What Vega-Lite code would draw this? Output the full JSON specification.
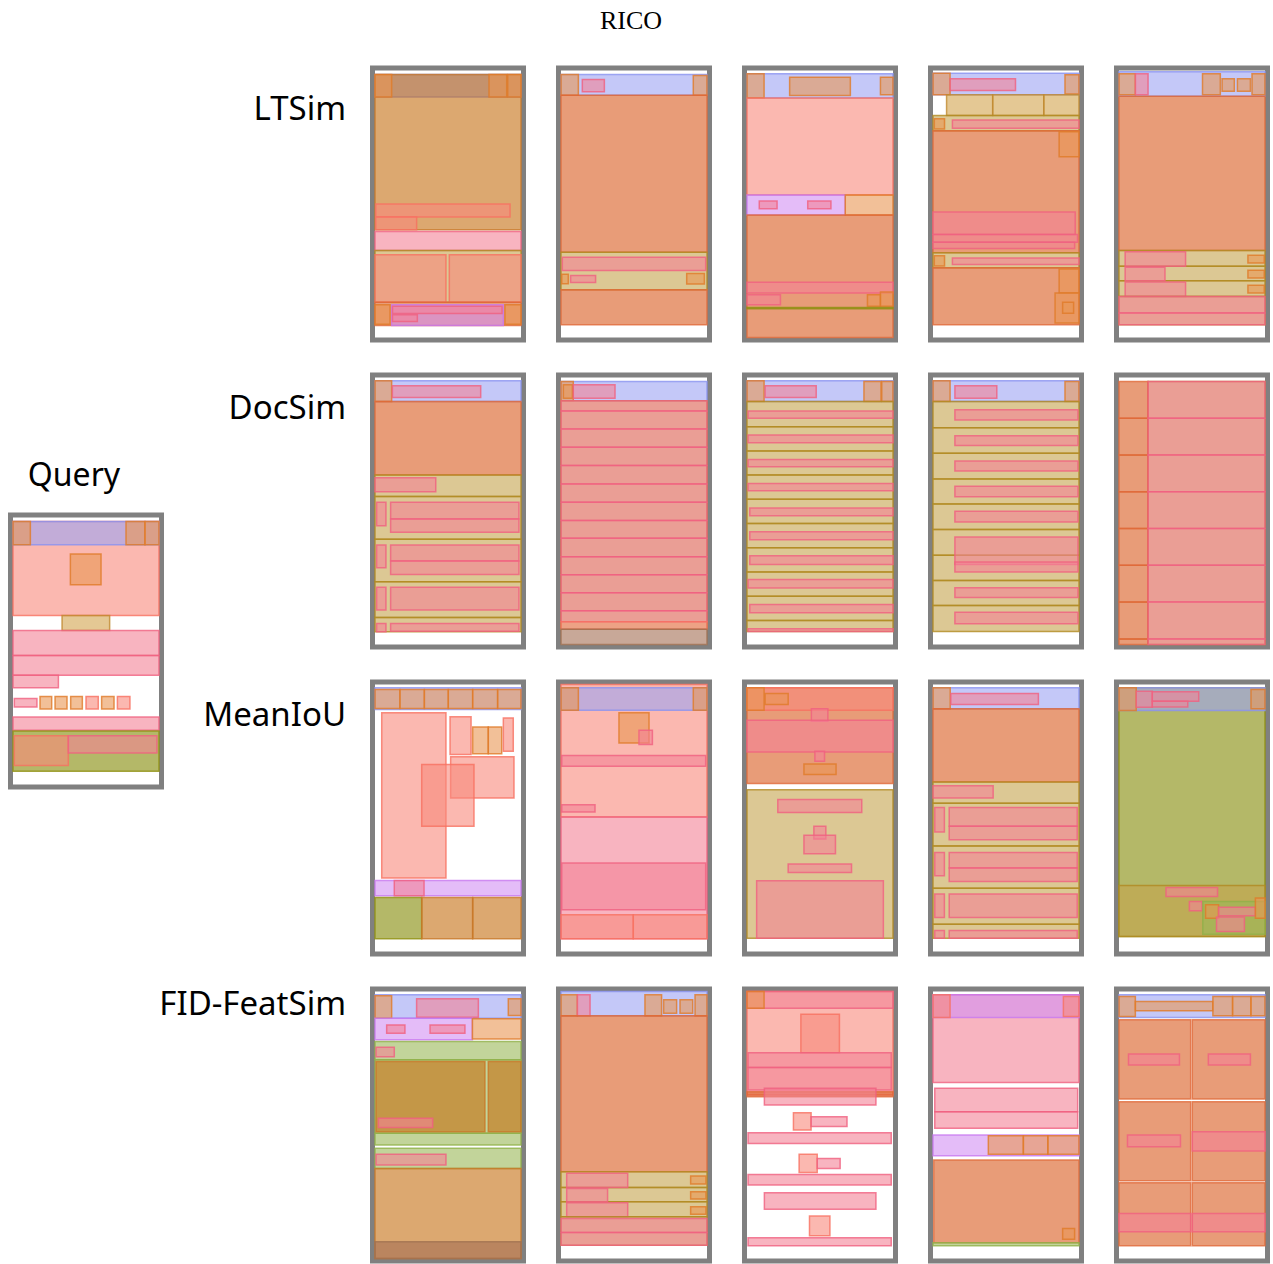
{
  "$schema": "https://vega.github.io/schema/vega-lite/v6.json",
  "background": "white",
  "padding": {"left": 7.5, "top": 7, "right": 0, "bottom": 0},
  "title": {"text": "RICO", "font": "Liberation Serif", "fontSize": 26, "fontWeight": "normal", "color": "black", "anchor": "middle", "dx": -8, "offset": 32},
  "config": {"view": {"stroke": "#808080", "strokeWidth": 5, "fill": "white"}},
  "data": {"values": [
    {"m":"Query","k":1,"c":"Image","x":0,"x2":100,"y":1.5,"y2":36.7},
    {"m":"Query","k":1,"c":"Toolbar","x":0,"x2":100,"y":1.5,"y2":10.2},
    {"m":"Query","k":1,"c":"Icon","x":0,"x2":11.9,"y":1.5,"y2":10.2},
    {"m":"Query","k":1,"c":"Icon","x":77.4,"x2":90.4,"y":1.5,"y2":10.2},
    {"m":"Query","k":1,"c":"Icon","x":90.4,"x2":100,"y":1.5,"y2":10.2},
    {"m":"Query","k":1,"c":"Icon","x":39.3,"x2":60.3,"y":13.7,"y2":25.2},
    {"m":"Query","k":1,"c":"Text Button","x":33.6,"x2":66.2,"y":36.7,"y2":42.3},
    {"m":"Query","k":1,"c":"Text","x":0,"x2":100,"y":42.3,"y2":51.7},
    {"m":"Query","k":1,"c":"Text","x":0,"x2":100,"y":51.7,"y2":59.1},
    {"m":"Query","k":1,"c":"Text","x":0,"x2":31.1,"y":59.1,"y2":63.8},
    {"m":"Query","k":1,"c":"Text","x":0.9,"x2":16.4,"y":67.8,"y2":71},
    {"m":"Query","k":1,"c":"Icon","x":18.5,"x2":26.5,"y":67,"y2":71.7},
    {"m":"Query","k":1,"c":"Icon","x":28.8,"x2":37,"y":67,"y2":71.7},
    {"m":"Query","k":1,"c":"Icon","x":39.5,"x2":47.5,"y":67,"y2":71.7},
    {"m":"Query","k":1,"c":"Image","x":50,"x2":58.4,"y":67,"y2":71.7},
    {"m":"Query","k":1,"c":"Icon","x":60.7,"x2":69.2,"y":67,"y2":71.7},
    {"m":"Query","k":1,"c":"Image","x":71.5,"x2":80.1,"y":67,"y2":71.7},
    {"m":"Query","k":1,"c":"Text","x":0,"x2":100,"y":74.7,"y2":79.7},
    {"m":"Query","k":1,"c":"Background Image","x":0,"x2":100,"y":80,"y2":95},
    {"m":"Query","k":1,"c":"Image","x":0.9,"x2":37.9,"y":81.7,"y2":92.9},
    {"m":"Query","k":1,"c":"Text","x":37.9,"x2":98.6,"y":81.7,"y2":88.2},

    {"m":"LTSim","k":1,"c":"Toolbar","x":0,"x2":100,"y":1.5,"y2":9.9},
    {"m":"LTSim","k":1,"c":"Advertisement","x":0,"x2":100,"y":1.5,"y2":59.6},
    {"m":"LTSim","k":1,"c":"Icon","x":0,"x2":11.4,"y":1.5,"y2":9.9},
    {"m":"LTSim","k":1,"c":"Icon","x":78.1,"x2":90.2,"y":1.5,"y2":9.9},
    {"m":"LTSim","k":1,"c":"Icon","x":90.9,"x2":100,"y":1.5,"y2":9.9},
    {"m":"LTSim","k":1,"c":"Image","x":0.5,"x2":92.5,"y":50,"y2":54.9},
    {"m":"LTSim","k":1,"c":"Image","x":0.5,"x2":28.5,"y":54.9,"y2":59.6},
    {"m":"LTSim","k":1,"c":"Text","x":0,"x2":100,"y":60.3,"y2":67.4},
    {"m":"LTSim","k":1,"c":"List Item","x":0,"x2":100,"y":67.4,"y2":86.8},
    {"m":"LTSim","k":1,"c":"Image","x":0,"x2":48.6,"y":69,"y2":86.8},
    {"m":"LTSim","k":1,"c":"Image","x":50.9,"x2":100,"y":69,"y2":86.8},
    {"m":"LTSim","k":1,"c":"Web View","x":0,"x2":100,"y":86.8,"y2":95.5},
    {"m":"LTSim","k":1,"c":"Input","x":11.4,"x2":87.9,"y":87.75,"y2":95.5},
    {"m":"LTSim","k":1,"c":"Icon","x":0,"x2":10.3,"y":87.75,"y2":95},
    {"m":"LTSim","k":1,"c":"Icon","x":89,"x2":100,"y":87.75,"y2":95},
    {"m":"LTSim","k":1,"c":"Text","x":12,"x2":87,"y":88.3,"y2":91},
    {"m":"LTSim","k":1,"c":"Text","x":12,"x2":29,"y":91.5,"y2":94},

    {"m":"LTSim","k":2,"c":"Toolbar","x":0,"x2":100,"y":1.5,"y2":9.25},
    {"m":"LTSim","k":2,"c":"Icon","x":0,"x2":11.9,"y":1.5,"y2":9.25},
    {"m":"LTSim","k":2,"c":"Icon","x":90.6,"x2":100,"y":1.9,"y2":9.25},
    {"m":"LTSim","k":2,"c":"Text","x":14.6,"x2":29.7,"y":3.4,"y2":8},
    {"m":"LTSim","k":2,"c":"Web View","x":0,"x2":100,"y":9.25,"y2":68.1},
    {"m":"LTSim","k":2,"c":"List Item","x":0,"x2":100,"y":68.1,"y2":82.1},
    {"m":"LTSim","k":2,"c":"Text","x":0.9,"x2":99.1,"y":69.9,"y2":74.9},
    {"m":"LTSim","k":2,"c":"Icon","x":0.5,"x2":5,"y":76.3,"y2":79.9},
    {"m":"LTSim","k":2,"c":"Text","x":6.6,"x2":23.7,"y":76.75,"y2":79.4},
    {"m":"LTSim","k":2,"c":"Icon","x":86.1,"x2":98.2,"y":76,"y2":80},
    {"m":"LTSim","k":2,"c":"Web View","x":0,"x2":100,"y":82.1,"y2":95.25},

    {"m":"LTSim","k":3,"c":"Toolbar","x":0,"x2":100,"y":1.25,"y2":10.3},
    {"m":"LTSim","k":3,"c":"Icon","x":0,"x2":11.7,"y":1.25,"y2":10.3},
    {"m":"LTSim","k":3,"c":"Icon","x":29.2,"x2":70.8,"y":2.5,"y2":9.4},
    {"m":"LTSim","k":3,"c":"Icon","x":91.4,"x2":100,"y":2.5,"y2":9.1},
    {"m":"LTSim","k":3,"c":"Image","x":0,"x2":100,"y":10.3,"y2":46.6},
    {"m":"LTSim","k":3,"c":"Input","x":0,"x2":67.3,"y":46.6,"y2":54.1},
    {"m":"LTSim","k":3,"c":"Text","x":8.4,"x2":20.6,"y":48.9,"y2":51.75},
    {"m":"LTSim","k":3,"c":"Text","x":41.6,"x2":57.5,"y":48.9,"y2":51.75},
    {"m":"LTSim","k":3,"c":"Icon","x":67.3,"x2":100,"y":46.6,"y2":54.1},
    {"m":"LTSim","k":3,"c":"Web View","x":0,"x2":100,"y":54.1,"y2":100},
    {"m":"LTSim","k":3,"c":"Text","x":0,"x2":100,"y":79.3,"y2":83.3},
    {"m":"LTSim","k":3,"c":"Text","x":0,"x2":22.9,"y":84,"y2":87.7},
    {"m":"LTSim","k":3,"c":"Icon","x":82.5,"x2":91.4,"y":84,"y2":88.3},
    {"m":"LTSim","k":3,"c":"Icon","x":91.4,"x2":100,"y":83,"y2":88.3},
    {"m":"LTSim","k":3,"c":"Background Image","x":0,"x2":100,"y":88.8,"y2":89.2},

    {"m":"LTSim","k":4,"c":"Toolbar","x":0,"x2":100,"y":1,"y2":9.1},
    {"m":"LTSim","k":4,"c":"Icon","x":0,"x2":11.7,"y":1,"y2":9.1},
    {"m":"LTSim","k":4,"c":"Text","x":11.7,"x2":56.5,"y":3.1,"y2":7.5},
    {"m":"LTSim","k":4,"c":"Icon","x":90.4,"x2":100,"y":1.6,"y2":8.8},
    {"m":"LTSim","k":4,"c":"Text Button","x":9.3,"x2":40.9,"y":9.1,"y2":16.9},
    {"m":"LTSim","k":4,"c":"Text Button","x":40.9,"x2":75.9,"y":9.1,"y2":16.9},
    {"m":"LTSim","k":4,"c":"Text Button","x":75.9,"x2":100,"y":9.1,"y2":16.9},
    {"m":"LTSim","k":4,"c":"List Item","x":0,"x2":100,"y":16.9,"y2":22.6},
    {"m":"LTSim","k":4,"c":"Icon","x":0.9,"x2":7.9,"y":18.1,"y2":21.9},
    {"m":"LTSim","k":4,"c":"Text","x":13.3,"x2":100,"y":18.5,"y2":21.6},
    {"m":"LTSim","k":4,"c":"Web View","x":0,"x2":100,"y":22.6,"y2":68.3},
    {"m":"LTSim","k":4,"c":"Icon","x":86.4,"x2":100,"y":22.9,"y2":32.3},
    {"m":"LTSim","k":4,"c":"Text","x":0,"x2":97.4,"y":53,"y2":61.4},
    {"m":"LTSim","k":4,"c":"Text","x":0,"x2":99,"y":61.4,"y2":64.3},
    {"m":"LTSim","k":4,"c":"Text","x":0,"x2":97,"y":64.3,"y2":66.7},
    {"m":"LTSim","k":4,"c":"List Item","x":0,"x2":100,"y":68.3,"y2":73.9},
    {"m":"LTSim","k":4,"c":"Icon","x":0.9,"x2":7.9,"y":69.4,"y2":73.2},
    {"m":"LTSim","k":4,"c":"Text","x":13.3,"x2":100,"y":70.2,"y2":72.7},
    {"m":"LTSim","k":4,"c":"Web View","x":0,"x2":100,"y":73.9,"y2":95.2},
    {"m":"LTSim","k":4,"c":"Icon","x":86.4,"x2":100,"y":74.3,"y2":83.3},
    {"m":"LTSim","k":4,"c":"Icon","x":83.6,"x2":100,"y":83.3,"y2":94.6},
    {"m":"LTSim","k":4,"c":"Icon","x":88.8,"x2":96.3,"y":86.8,"y2":90.9},

    {"m":"LTSim","k":5,"c":"Toolbar","x":0,"x2":100,"y":0.5,"y2":9.6},
    {"m":"LTSim","k":5,"c":"Icon","x":0,"x2":11.2,"y":1.25,"y2":9.1},
    {"m":"LTSim","k":5,"c":"Text","x":11.2,"x2":19.9,"y":1.25,"y2":9.1},
    {"m":"LTSim","k":5,"c":"Icon","x":57.2,"x2":69.4,"y":1.25,"y2":9.1},
    {"m":"LTSim","k":5,"c":"Icon","x":70.6,"x2":79,"y":3.1,"y2":7.75},
    {"m":"LTSim","k":5,"c":"Icon","x":81.1,"x2":90,"y":3.1,"y2":7.75},
    {"m":"LTSim","k":5,"c":"Icon","x":91.1,"x2":100,"y":1.25,"y2":9.1},
    {"m":"LTSim","k":5,"c":"Web View","x":0,"x2":100,"y":9.6,"y2":67.4},
    {"m":"LTSim","k":5,"c":"List Item","x":0,"x2":100,"y":67.4,"y2":73.3},
    {"m":"LTSim","k":5,"c":"List Item","x":0,"x2":100,"y":73.3,"y2":78.7},
    {"m":"LTSim","k":5,"c":"List Item","x":0,"x2":100,"y":78.7,"y2":84.6},
    {"m":"LTSim","k":5,"c":"Text","x":4.2,"x2":45.6,"y":67.9,"y2":73.3},
    {"m":"LTSim","k":5,"c":"Text","x":4.2,"x2":31.5,"y":73.7,"y2":78.7},
    {"m":"LTSim","k":5,"c":"Text","x":4.2,"x2":45.6,"y":79.2,"y2":84.6},
    {"m":"LTSim","k":5,"c":"Icon","x":88.3,"x2":99.5,"y":69.2,"y2":72.1},
    {"m":"LTSim","k":5,"c":"Icon","x":88.3,"x2":99.5,"y":74.8,"y2":77.7},
    {"m":"LTSim","k":5,"c":"Icon","x":88.3,"x2":99.5,"y":80.4,"y2":83.3},
    {"m":"LTSim","k":5,"c":"List Item","x":0,"x2":100,"y":84.6,"y2":95.2},
    {"m":"LTSim","k":5,"c":"Text","x":0,"x2":100,"y":84.6,"y2":90.85},
    {"m":"LTSim","k":5,"c":"Text","x":0,"x2":100,"y":90.85,"y2":95.2},

    {"m":"DocSim","k":1,"c":"Toolbar","x":0,"x2":100,"y":1.25,"y2":9},
    {"m":"DocSim","k":1,"c":"Icon","x":0,"x2":11.4,"y":1.25,"y2":9},
    {"m":"DocSim","k":1,"c":"Text","x":11.9,"x2":72.4,"y":3.1,"y2":7.5},
    {"m":"DocSim","k":1,"c":"Web View","x":0,"x2":100,"y":9,"y2":36.5},
    {"m":"DocSim","k":1,"c":"List Item","x":0,"x2":100,"y":36.5,"y2":44.6},
    {"m":"DocSim","k":1,"c":"List Item","x":0,"x2":100,"y":44.6,"y2":60.6},
    {"m":"DocSim","k":1,"c":"List Item","x":0,"x2":100,"y":60.6,"y2":76.5},
    {"m":"DocSim","k":1,"c":"List Item","x":0,"x2":100,"y":76.5,"y2":89.9},
    {"m":"DocSim","k":1,"c":"List Item","x":0,"x2":100,"y":89.9,"y2":95.25},
    {"m":"DocSim","k":1,"c":"Text","x":0,"x2":41.6,"y":37.5,"y2":42.75},
    {"m":"DocSim","k":1,"c":"Text","x":1.1,"x2":7.5,"y":46.75,"y2":55.5},
    {"m":"DocSim","k":1,"c":"Text","x":10.7,"x2":98.6,"y":46.75,"y2":53},
    {"m":"DocSim","k":1,"c":"Text","x":10.7,"x2":98.6,"y":53,"y2":58},
    {"m":"DocSim","k":1,"c":"Text","x":1.1,"x2":7.5,"y":62.75,"y2":71.25},
    {"m":"DocSim","k":1,"c":"Text","x":10.7,"x2":98.6,"y":62.75,"y2":68.75},
    {"m":"DocSim","k":1,"c":"Text","x":10.7,"x2":98.6,"y":68.75,"y2":73.75},
    {"m":"DocSim","k":1,"c":"Text","x":1.1,"x2":7.5,"y":78.6,"y2":87.1},
    {"m":"DocSim","k":1,"c":"Text","x":10.7,"x2":98.6,"y":78.6,"y2":87.1},
    {"m":"DocSim","k":1,"c":"Text","x":1.1,"x2":7.5,"y":92.1,"y2":95.25},
    {"m":"DocSim","k":1,"c":"Text","x":10.7,"x2":98.6,"y":92.1,"y2":95},

    {"m":"DocSim","k":2,"c":"Toolbar","x":0,"x2":100,"y":1.5,"y2":8.75},
    {"m":"DocSim","k":2,"c":"Icon","x":0,"x2":8.4,"y":1.5,"y2":8.75},
    {"m":"DocSim","k":2,"c":"Icon","x":1.6,"x2":7.8,"y":2.75,"y2":7.75},
    {"m":"DocSim","k":2,"c":"Text","x":8.4,"x2":37,"y":2.75,"y2":7.75},
    {"m":"DocSim","k":2,"c":"List Item","x":0,"x2":100,"y":8.75,"y2":94.25},
    {"m":"DocSim","k":2,"c":"Text","x":0,"x2":100,"y":8.75,"y2":12.5},
    {"m":"DocSim","k":2,"c":"Text","x":0,"x2":100,"y":12.5,"y2":19.25},
    {"m":"DocSim","k":2,"c":"Text","x":0,"x2":100,"y":19.25,"y2":26.1},
    {"m":"DocSim","k":2,"c":"Text","x":0,"x2":100,"y":26.1,"y2":33},
    {"m":"DocSim","k":2,"c":"Text","x":0,"x2":100,"y":33,"y2":39.9},
    {"m":"DocSim","k":2,"c":"Text","x":0,"x2":100,"y":39.9,"y2":46.75},
    {"m":"DocSim","k":2,"c":"Text","x":0,"x2":100,"y":46.75,"y2":53.6},
    {"m":"DocSim","k":2,"c":"Text","x":0,"x2":100,"y":53.6,"y2":60.25},
    {"m":"DocSim","k":2,"c":"Text","x":0,"x2":100,"y":60.25,"y2":67.1},
    {"m":"DocSim","k":2,"c":"Text","x":0,"x2":100,"y":67.1,"y2":73.9},
    {"m":"DocSim","k":2,"c":"Text","x":0,"x2":100,"y":73.9,"y2":80.6},
    {"m":"DocSim","k":2,"c":"Text","x":0,"x2":100,"y":80.6,"y2":87.4},
    {"m":"DocSim","k":2,"c":"Text","x":0,"x2":100,"y":87.4,"y2":91.5},
    {"m":"DocSim","k":2,"c":"Image","x":0,"x2":100,"y":91.5,"y2":94.25},
    {"m":"DocSim","k":2,"c":"Bottom Navigation","x":0,"x2":100,"y":94.25,"y2":100},

    {"m":"DocSim","k":3,"c":"Toolbar","x":0,"x2":100,"y":1.25,"y2":9},
    {"m":"DocSim","k":3,"c":"Icon","x":0,"x2":11.7,"y":1.25,"y2":9},
    {"m":"DocSim","k":3,"c":"Text","x":12.4,"x2":47.4,"y":3.1,"y2":7.5},
    {"m":"DocSim","k":3,"c":"Icon","x":80.1,"x2":91.8,"y":1.5,"y2":9},
    {"m":"DocSim","k":3,"c":"Icon","x":92.3,"x2":100,"y":1.5,"y2":9},
    {"m":"DocSim","k":3,"c":"List Item","x":0,"x2":100,"y":9,"y2":18.4},
    {"m":"DocSim","k":3,"c":"List Item","x":0,"x2":100,"y":18.4,"y2":27.5},
    {"m":"DocSim","k":3,"c":"List Item","x":0,"x2":100,"y":27.5,"y2":36.5},
    {"m":"DocSim","k":3,"c":"List Item","x":0,"x2":100,"y":36.5,"y2":45.6},
    {"m":"DocSim","k":3,"c":"List Item","x":0,"x2":100,"y":45.6,"y2":54.7},
    {"m":"DocSim","k":3,"c":"List Item","x":0,"x2":100,"y":54.7,"y2":63.8},
    {"m":"DocSim","k":3,"c":"List Item","x":0,"x2":100,"y":63.8,"y2":72.8},
    {"m":"DocSim","k":3,"c":"List Item","x":0,"x2":100,"y":72.8,"y2":81.9},
    {"m":"DocSim","k":3,"c":"List Item","x":0,"x2":100,"y":81.9,"y2":91},
    {"m":"DocSim","k":3,"c":"List Item","x":0,"x2":100,"y":91,"y2":95.1},
    {"m":"DocSim","k":3,"c":"Text","x":0.7,"x2":100,"y":12.5,"y2":15.3},
    {"m":"DocSim","k":3,"c":"Text","x":0.7,"x2":100,"y":21.5,"y2":24.4},
    {"m":"DocSim","k":3,"c":"Text","x":0.7,"x2":100,"y":30.7,"y2":33.4},
    {"m":"DocSim","k":3,"c":"Text","x":0.7,"x2":100,"y":39.7,"y2":42.4},
    {"m":"DocSim","k":3,"c":"Text","x":1.9,"x2":100,"y":48.9,"y2":51.8},
    {"m":"DocSim","k":3,"c":"Text","x":1.9,"x2":100,"y":57.8,"y2":60.8},
    {"m":"DocSim","k":3,"c":"Text","x":1.9,"x2":100,"y":66.8,"y2":70},
    {"m":"DocSim","k":3,"c":"Text","x":0.7,"x2":100,"y":75.7,"y2":78.8},
    {"m":"DocSim","k":3,"c":"Text","x":1.9,"x2":100,"y":84.98,"y2":88.1},
    {"m":"DocSim","k":3,"c":"Text","x":0.7,"x2":100,"y":94.1,"y2":95.1},

    {"m":"DocSim","k":4,"c":"Toolbar","x":0,"x2":100,"y":1.25,"y2":9},
    {"m":"DocSim","k":4,"c":"Icon","x":0,"x2":11.7,"y":1.25,"y2":9},
    {"m":"DocSim","k":4,"c":"Text","x":15,"x2":43.7,"y":3.1,"y2":7.8},
    {"m":"DocSim","k":4,"c":"Icon","x":90.4,"x2":100,"y":1.5,"y2":9},
    {"m":"DocSim","k":4,"c":"List Item","x":0,"x2":100,"y":9,"y2":18.8},
    {"m":"DocSim","k":4,"c":"List Item","x":0,"x2":100,"y":18.8,"y2":28.4},
    {"m":"DocSim","k":4,"c":"List Item","x":0,"x2":100,"y":28.4,"y2":38},
    {"m":"DocSim","k":4,"c":"List Item","x":0,"x2":100,"y":38,"y2":47.4},
    {"m":"DocSim","k":4,"c":"List Item","x":0,"x2":100,"y":47.4,"y2":56.9},
    {"m":"DocSim","k":4,"c":"List Item","x":0,"x2":100,"y":56.9,"y2":66.6},
    {"m":"DocSim","k":4,"c":"List Item","x":0,"x2":100,"y":66.6,"y2":76},
    {"m":"DocSim","k":4,"c":"List Item","x":0,"x2":100,"y":76,"y2":85.4},
    {"m":"DocSim","k":4,"c":"List Item","x":0,"x2":100,"y":85.4,"y2":95.1},
    {"m":"DocSim","k":4,"c":"Text","x":15,"x2":99.3,"y":12.1,"y2":15.9},
    {"m":"DocSim","k":4,"c":"Text","x":15,"x2":99.3,"y":21.8,"y2":25.5},
    {"m":"DocSim","k":4,"c":"Text","x":15,"x2":99.3,"y":31.3,"y2":35},
    {"m":"DocSim","k":4,"c":"Text","x":15,"x2":99.3,"y":40.7,"y2":44.7},
    {"m":"DocSim","k":4,"c":"Text","x":15,"x2":99.3,"y":50.1,"y2":54.1},
    {"m":"DocSim","k":4,"c":"Text","x":15,"x2":99.3,"y":59.7,"y2":70},
    {"m":"DocSim","k":4,"c":"Text","x":15,"x2":99.3,"y":69.1,"y2":72.8},
    {"m":"DocSim","k":4,"c":"Text","x":15,"x2":99.3,"y":78.7,"y2":82.4},
    {"m":"DocSim","k":4,"c":"Text","x":15,"x2":99.3,"y":87.9,"y2":92.2},

    {"m":"DocSim","k":5,"c":"List Item","x":19.9,"x2":100,"y":1.5,"y2":100},
    {"m":"DocSim","k":5,"c":"Web View","x":0,"x2":19.9,"y":1.5,"y2":15.3},
    {"m":"DocSim","k":5,"c":"Web View","x":0,"x2":19.9,"y":15.3,"y2":29},
    {"m":"DocSim","k":5,"c":"Web View","x":0,"x2":19.9,"y":29,"y2":42.8},
    {"m":"DocSim","k":5,"c":"Web View","x":0,"x2":19.9,"y":42.8,"y2":56.6},
    {"m":"DocSim","k":5,"c":"Web View","x":0,"x2":19.9,"y":56.6,"y2":70.3},
    {"m":"DocSim","k":5,"c":"Web View","x":0,"x2":19.9,"y":70.3,"y2":84.1},
    {"m":"DocSim","k":5,"c":"Web View","x":0,"x2":19.9,"y":84.1,"y2":97.9},
    {"m":"DocSim","k":5,"c":"Web View","x":0,"x2":19.9,"y":97.9,"y2":100},
    {"m":"DocSim","k":5,"c":"Text","x":19.9,"x2":100,"y":1.5,"y2":15.3},
    {"m":"DocSim","k":5,"c":"Text","x":19.9,"x2":100,"y":15.3,"y2":29},
    {"m":"DocSim","k":5,"c":"Text","x":19.9,"x2":100,"y":29,"y2":42.8},
    {"m":"DocSim","k":5,"c":"Text","x":19.9,"x2":100,"y":42.8,"y2":56.6},
    {"m":"DocSim","k":5,"c":"Text","x":19.9,"x2":100,"y":56.6,"y2":70.3},
    {"m":"DocSim","k":5,"c":"Text","x":19.9,"x2":100,"y":70.3,"y2":84.1},
    {"m":"DocSim","k":5,"c":"Text","x":19.9,"x2":100,"y":84.1,"y2":97.9},
    {"m":"DocSim","k":5,"c":"Text","x":19.9,"x2":100,"y":97.9,"y2":100},

    {"m":"MeanIoU","k":1,"c":"Toolbar","x":0,"x2":100,"y":1.25,"y2":9.4},
    {"m":"MeanIoU","k":1,"c":"Icon","x":0,"x2":17.1,"y":1.9,"y2":9},
    {"m":"MeanIoU","k":1,"c":"Icon","x":17.1,"x2":33.8,"y":1.9,"y2":9},
    {"m":"MeanIoU","k":1,"c":"Icon","x":33.8,"x2":50.2,"y":1.9,"y2":9},
    {"m":"MeanIoU","k":1,"c":"Icon","x":50.2,"x2":66.9,"y":1.9,"y2":9},
    {"m":"MeanIoU","k":1,"c":"Icon","x":66.9,"x2":84,"y":1.9,"y2":9},
    {"m":"MeanIoU","k":1,"c":"Icon","x":84,"x2":100,"y":1.9,"y2":9},
    {"m":"MeanIoU","k":1,"c":"Image","x":4.6,"x2":48.6,"y":10.6,"y2":72.5},
    {"m":"MeanIoU","k":1,"c":"Image","x":51.4,"x2":65.8,"y":12.1,"y2":26.25},
    {"m":"MeanIoU","k":1,"c":"Icon","x":66.9,"x2":77.6,"y":15.9,"y2":25.9},
    {"m":"MeanIoU","k":1,"c":"Icon","x":77.6,"x2":86.8,"y":15.9,"y2":25.9},
    {"m":"MeanIoU","k":1,"c":"Image","x":87.9,"x2":94.7,"y":12.5,"y2":25},
    {"m":"MeanIoU","k":1,"c":"Image","x":51.8,"x2":95.2,"y":27.1,"y2":42.5},
    {"m":"MeanIoU","k":1,"c":"Image","x":32,"x2":67.8,"y":30,"y2":53.1},
    {"m":"MeanIoU","k":1,"c":"Input","x":0,"x2":100,"y":73.4,"y2":79.1},
    {"m":"MeanIoU","k":1,"c":"Text","x":13.2,"x2":33.6,"y":73.4,"y2":79.1},
    {"m":"MeanIoU","k":1,"c":"Background Image","x":0,"x2":32,"y":79.75,"y2":95.25},
    {"m":"MeanIoU","k":1,"c":"Advertisement","x":32,"x2":66.9,"y":79.75,"y2":95.25},
    {"m":"MeanIoU","k":1,"c":"Advertisement","x":66.9,"x2":100,"y":79.75,"y2":95.25},

    {"m":"MeanIoU","k":2,"c":"Image","x":0,"x2":100,"y":0,"y2":49.6},
    {"m":"MeanIoU","k":2,"c":"Toolbar","x":0,"x2":100,"y":1.25,"y2":9.6},
    {"m":"MeanIoU","k":2,"c":"Icon","x":0,"x2":11.9,"y":1.25,"y2":9.6},
    {"m":"MeanIoU","k":2,"c":"Icon","x":90.6,"x2":100,"y":1.25,"y2":9.6},
    {"m":"MeanIoU","k":2,"c":"Icon","x":39.7,"x2":60.3,"y":10.6,"y2":21.9},
    {"m":"MeanIoU","k":2,"c":"Text","x":53.4,"x2":62.6,"y":17.1,"y2":22.5},
    {"m":"MeanIoU","k":2,"c":"Text","x":0.5,"x2":99.1,"y":26.6,"y2":30.6},
    {"m":"MeanIoU","k":2,"c":"Text","x":0.5,"x2":23.3,"y":45,"y2":47.75},
    {"m":"MeanIoU","k":2,"c":"Text","x":0,"x2":100,"y":49.6,"y2":95.25},
    {"m":"MeanIoU","k":2,"c":"Text","x":0.5,"x2":99.1,"y":66.9,"y2":84.4},
    {"m":"MeanIoU","k":2,"c":"Image","x":0,"x2":49.5,"y":86.25,"y2":95.25},
    {"m":"MeanIoU","k":2,"c":"Image","x":49.5,"x2":100,"y":86.25,"y2":95.25},

    {"m":"MeanIoU","k":3,"c":"Web View","x":0,"x2":100,"y":1.25,"y2":37.1},
    {"m":"MeanIoU","k":3,"c":"Image","x":0,"x2":100,"y":1.25,"y2":9.6},
    {"m":"MeanIoU","k":3,"c":"Icon","x":0,"x2":11.7,"y":1.25,"y2":9.6},
    {"m":"MeanIoU","k":3,"c":"Icon","x":12.4,"x2":28.2,"y":3.4,"y2":7.5},
    {"m":"MeanIoU","k":3,"c":"Text","x":44.1,"x2":55.4,"y":9.1,"y2":13.75},
    {"m":"MeanIoU","k":3,"c":"Text","x":0,"x2":100,"y":13.4,"y2":25.25},
    {"m":"MeanIoU","k":3,"c":"Text","x":46.5,"x2":53.1,"y":25,"y2":28.75},
    {"m":"MeanIoU","k":3,"c":"Icon","x":39,"x2":61,"y":29.75,"y2":33.75},
    {"m":"MeanIoU","k":3,"c":"List Item","x":0,"x2":100,"y":39.4,"y2":95},
    {"m":"MeanIoU","k":3,"c":"Text","x":21.1,"x2":78.6,"y":43.1,"y2":47.9},
    {"m":"MeanIoU","k":3,"c":"Text","x":45.8,"x2":54,"y":53.1,"y2":57.9},
    {"m":"MeanIoU","k":3,"c":"Text","x":39,"x2":60.6,"y":56.5,"y2":63.4},
    {"m":"MeanIoU","k":3,"c":"Text","x":28.2,"x2":71.6,"y":67.25,"y2":70.4},
    {"m":"MeanIoU","k":3,"c":"Text","x":6.6,"x2":93.4,"y":73.5,"y2":95},

    {"m":"MeanIoU","k":4,"c":"Toolbar","x":0,"x2":100,"y":1.25,"y2":9.1},
    {"m":"MeanIoU","k":4,"c":"Icon","x":0,"x2":11.8,"y":1.25,"y2":9.1},
    {"m":"MeanIoU","k":4,"c":"Text","x":12.2,"x2":72.2,"y":3.4,"y2":7.5},
    {"m":"MeanIoU","k":4,"c":"Web View","x":0,"x2":100,"y":9.1,"y2":36.5},
    {"m":"MeanIoU","k":4,"c":"List Item","x":0,"x2":100,"y":36.5,"y2":44.5},
    {"m":"MeanIoU","k":4,"c":"List Item","x":0,"x2":100,"y":44.5,"y2":60.5},
    {"m":"MeanIoU","k":4,"c":"List Item","x":0,"x2":100,"y":60.5,"y2":76.3},
    {"m":"MeanIoU","k":4,"c":"List Item","x":0,"x2":100,"y":76.3,"y2":89.8},
    {"m":"MeanIoU","k":4,"c":"List Item","x":0,"x2":100,"y":89.8,"y2":95},
    {"m":"MeanIoU","k":4,"c":"Text","x":0,"x2":41.2,"y":37.9,"y2":42.5},
    {"m":"MeanIoU","k":4,"c":"Text","x":1.2,"x2":7.8,"y":46.1,"y2":55.25},
    {"m":"MeanIoU","k":4,"c":"Text","x":11.1,"x2":98.8,"y":46.1,"y2":53.1},
    {"m":"MeanIoU","k":4,"c":"Text","x":11.1,"x2":98.8,"y":53.1,"y2":58.1},
    {"m":"MeanIoU","k":4,"c":"Text","x":1.2,"x2":7.8,"y":62.9,"y2":71.6},
    {"m":"MeanIoU","k":4,"c":"Text","x":11.1,"x2":98.8,"y":62.9,"y2":68.75},
    {"m":"MeanIoU","k":4,"c":"Text","x":11.1,"x2":98.8,"y":68.75,"y2":73.75},
    {"m":"MeanIoU","k":4,"c":"Text","x":1.2,"x2":7.8,"y":78.5,"y2":87.25},
    {"m":"MeanIoU","k":4,"c":"Text","x":11.1,"x2":98.8,"y":78.5,"y2":87.25},
    {"m":"MeanIoU","k":4,"c":"Text","x":1.2,"x2":7.8,"y":92.1,"y2":95},
    {"m":"MeanIoU","k":4,"c":"Text","x":11.1,"x2":98.8,"y":92.1,"y2":95},

    {"m":"MeanIoU","k":5,"c":"Background Image","x":0,"x2":100,"y":1.25,"y2":94.4},
    {"m":"MeanIoU","k":5,"c":"Toolbar","x":0,"x2":100,"y":1.25,"y2":9.75},
    {"m":"MeanIoU","k":5,"c":"Icon","x":0,"x2":11.8,"y":1.25,"y2":9.75},
    {"m":"MeanIoU","k":5,"c":"Text","x":11.8,"x2":22.8,"y":2.5,"y2":8.5},
    {"m":"MeanIoU","k":5,"c":"Text","x":22.8,"x2":54.6,"y":2.75,"y2":6.25},
    {"m":"MeanIoU","k":5,"c":"Text","x":22.8,"x2":47.1,"y":6.25,"y2":8.4},
    {"m":"MeanIoU","k":5,"c":"Icon","x":90.4,"x2":100,"y":1.9,"y2":9.1},
    {"m":"MeanIoU","k":5,"c":"List Item","x":0,"x2":100,"y":75.25,"y2":94.4},
    {"m":"MeanIoU","k":5,"c":"Text","x":32.2,"x2":67.5,"y":76,"y2":79.4},
    {"m":"MeanIoU","k":5,"c":"Text","x":48.2,"x2":56.9,"y":81.25,"y2":84.75},
    {"m":"MeanIoU","k":5,"c":"Card","x":57.4,"x2":100,"y":81.25,"y2":93.5},
    {"m":"MeanIoU","k":5,"c":"Icon","x":59.3,"x2":68.2,"y":82.5,"y2":87.5},
    {"m":"MeanIoU","k":5,"c":"Text","x":68.2,"x2":93.4,"y":83.4,"y2":86.6},
    {"m":"MeanIoU","k":5,"c":"Text","x":66.8,"x2":85.9,"y":87.1,"y2":92.5},
    {"m":"MeanIoU","k":5,"c":"Icon","x":93.4,"x2":100,"y":80,"y2":87.5},

    {"m":"FID-FeatSim","k":1,"c":"Toolbar","x":0,"x2":100,"y":1.25,"y2":10},
    {"m":"FID-FeatSim","k":1,"c":"Icon","x":0,"x2":11.4,"y":1.6,"y2":10},
    {"m":"FID-FeatSim","k":1,"c":"Text","x":28.5,"x2":70.8,"y":2.75,"y2":9.6},
    {"m":"FID-FeatSim","k":1,"c":"Icon","x":91.3,"x2":100,"y":2.75,"y2":9},
    {"m":"FID-FeatSim","k":1,"c":"Input","x":0,"x2":66.7,"y":10,"y2":18.1},
    {"m":"FID-FeatSim","k":1,"c":"Text","x":8,"x2":20.5,"y":12.5,"y2":15.6},
    {"m":"FID-FeatSim","k":1,"c":"Text","x":37.7,"x2":61.6,"y":12.5,"y2":15.6},
    {"m":"FID-FeatSim","k":1,"c":"Icon","x":66.7,"x2":100,"y":10.25,"y2":17.75},
    {"m":"FID-FeatSim","k":1,"c":"Card","x":0,"x2":100,"y":18.75,"y2":25.6},
    {"m":"FID-FeatSim","k":1,"c":"Card","x":0,"x2":100,"y":25.6,"y2":53.1},
    {"m":"FID-FeatSim","k":1,"c":"Card","x":0,"x2":100,"y":53.1,"y2":57.5},
    {"m":"FID-FeatSim","k":1,"c":"Text","x":0.7,"x2":13.2,"y":20.9,"y2":24.4},
    {"m":"FID-FeatSim","k":1,"c":"Advertisement","x":0.7,"x2":75.3,"y":26.25,"y2":52.5},
    {"m":"FID-FeatSim","k":1,"c":"Advertisement","x":77.6,"x2":100,"y":26.25,"y2":52.5},
    {"m":"FID-FeatSim","k":1,"c":"Text","x":2.3,"x2":39.5,"y":47.5,"y2":50.9},
    {"m":"FID-FeatSim","k":1,"c":"Card","x":0,"x2":100,"y":58.75,"y2":66.25},
    {"m":"FID-FeatSim","k":1,"c":"Text","x":0.7,"x2":48.6,"y":61,"y2":65},
    {"m":"FID-FeatSim","k":1,"c":"Advertisement","x":0,"x2":100,"y":66.25,"y2":100},
    {"m":"FID-FeatSim","k":1,"c":"Bottom Navigation","x":0,"x2":100,"y":93.75,"y2":100},

    {"m":"FID-FeatSim","k":2,"c":"Toolbar","x":0,"x2":100,"y":0,"y2":9.1},
    {"m":"FID-FeatSim","k":2,"c":"Icon","x":0,"x2":11.2,"y":1.25,"y2":9.1},
    {"m":"FID-FeatSim","k":2,"c":"Text","x":11.2,"x2":19.9,"y":1.25,"y2":9.1},
    {"m":"FID-FeatSim","k":2,"c":"Icon","x":57.5,"x2":68.9,"y":1.25,"y2":9.1},
    {"m":"FID-FeatSim","k":2,"c":"Icon","x":70.3,"x2":79.2,"y":3.1,"y2":8.1},
    {"m":"FID-FeatSim","k":2,"c":"Icon","x":81.5,"x2":90.2,"y":3.1,"y2":8.1},
    {"m":"FID-FeatSim","k":2,"c":"Icon","x":91.8,"x2":100,"y":1.25,"y2":9.1},
    {"m":"FID-FeatSim","k":2,"c":"Web View","x":0,"x2":100,"y":9.1,"y2":67.5},
    {"m":"FID-FeatSim","k":2,"c":"List Item","x":0,"x2":100,"y":67.5,"y2":73.4},
    {"m":"FID-FeatSim","k":2,"c":"List Item","x":0,"x2":100,"y":73.4,"y2":78.75},
    {"m":"FID-FeatSim","k":2,"c":"List Item","x":0,"x2":100,"y":78.75,"y2":84.4},
    {"m":"FID-FeatSim","k":2,"c":"Text","x":3.9,"x2":45.7,"y":68.1,"y2":73.4},
    {"m":"FID-FeatSim","k":2,"c":"Text","x":3.9,"x2":31.9,"y":73.75,"y2":78.75},
    {"m":"FID-FeatSim","k":2,"c":"Text","x":3.9,"x2":45.7,"y":79.1,"y2":84.4},
    {"m":"FID-FeatSim","k":2,"c":"Icon","x":88.8,"x2":99.3,"y":69.1,"y2":72.1},
    {"m":"FID-FeatSim","k":2,"c":"Icon","x":88.8,"x2":99.3,"y":75,"y2":77.75},
    {"m":"FID-FeatSim","k":2,"c":"Icon","x":88.8,"x2":99.3,"y":80.6,"y2":83.4},
    {"m":"FID-FeatSim","k":2,"c":"List Item","x":0,"x2":100,"y":84.4,"y2":95},
    {"m":"FID-FeatSim","k":2,"c":"Text","x":0,"x2":100,"y":85,"y2":90.25},
    {"m":"FID-FeatSim","k":2,"c":"Text","x":0,"x2":100,"y":90.25,"y2":95},

    {"m":"FID-FeatSim","k":3,"c":"Image","x":0,"x2":100,"y":0,"y2":38.75},
    {"m":"FID-FeatSim","k":3,"c":"Text","x":0,"x2":100,"y":0,"y2":6.25},
    {"m":"FID-FeatSim","k":3,"c":"Icon","x":0,"x2":11.7,"y":0,"y2":6.25},
    {"m":"FID-FeatSim","k":3,"c":"Image","x":36.9,"x2":63.3,"y":8.5,"y2":22.9},
    {"m":"FID-FeatSim","k":3,"c":"Text","x":0.7,"x2":98.8,"y":22.9,"y2":28.5},
    {"m":"FID-FeatSim","k":3,"c":"Text","x":0.7,"x2":98.8,"y":28.5,"y2":36.9},
    {"m":"FID-FeatSim","k":3,"c":"Web View","x":0,"x2":100,"y":37.5,"y2":39.4},
    {"m":"FID-FeatSim","k":3,"c":"Text","x":11.9,"x2":88.3,"y":36.25,"y2":42.5},
    {"m":"FID-FeatSim","k":3,"c":"Image","x":31.8,"x2":43.9,"y":45.4,"y2":51.9},
    {"m":"FID-FeatSim","k":3,"c":"Text","x":43.9,"x2":68.5,"y":46.9,"y2":50.6},
    {"m":"FID-FeatSim","k":3,"c":"Text","x":0.7,"x2":98.8,"y":52.9,"y2":56.9},
    {"m":"FID-FeatSim","k":3,"c":"Image","x":35.7,"x2":48.1,"y":61,"y2":67.75},
    {"m":"FID-FeatSim","k":3,"c":"Text","x":48.1,"x2":63.8,"y":62.5,"y2":66.25},
    {"m":"FID-FeatSim","k":3,"c":"Text","x":0.7,"x2":98.8,"y":68.5,"y2":72.5},
    {"m":"FID-FeatSim","k":3,"c":"Text","x":11.9,"x2":88.3,"y":75.4,"y2":81.6},
    {"m":"FID-FeatSim","k":3,"c":"Image","x":42.8,"x2":56.8,"y":84.1,"y2":91.5},
    {"m":"FID-FeatSim","k":3,"c":"Text","x":0.7,"x2":98.8,"y":92.25,"y2":95.25},

    {"m":"FID-FeatSim","k":4,"c":"Text","x":0,"x2":100,"y":1.25,"y2":34.1},
    {"m":"FID-FeatSim","k":4,"c":"Input","x":0,"x2":100,"y":1.25,"y2":9.75},
    {"m":"FID-FeatSim","k":4,"c":"Image","x":0,"x2":11.7,"y":1.25,"y2":9.75},
    {"m":"FID-FeatSim","k":4,"c":"Image","x":89.3,"x2":100,"y":1.9,"y2":9.4},
    {"m":"FID-FeatSim","k":4,"c":"Text","x":1.2,"x2":99.1,"y":36.25,"y2":45},
    {"m":"FID-FeatSim","k":4,"c":"Text","x":1.2,"x2":99.1,"y":45,"y2":51.25},
    {"m":"FID-FeatSim","k":4,"c":"Input","x":0,"x2":100,"y":53.75,"y2":61.5},
    {"m":"FID-FeatSim","k":4,"c":"Icon","x":37.9,"x2":61.9,"y":54,"y2":61},
    {"m":"FID-FeatSim","k":4,"c":"Icon","x":61.9,"x2":78.7,"y":54,"y2":61},
    {"m":"FID-FeatSim","k":4,"c":"Icon","x":78.7,"x2":100,"y":54,"y2":61},
    {"m":"FID-FeatSim","k":4,"c":"Web View","x":0.5,"x2":100,"y":63.1,"y2":94.1},
    {"m":"FID-FeatSim","k":4,"c":"Icon","x":88.8,"x2":97,"y":88.75,"y2":92.75},
    {"m":"FID-FeatSim","k":4,"c":"Card","x":0,"x2":100,"y":94.1,"y2":95.25},

    {"m":"FID-FeatSim","k":5,"c":"Toolbar","x":0,"x2":100,"y":1.25,"y2":9.75},
    {"m":"FID-FeatSim","k":5,"c":"Icon","x":0,"x2":11.2,"y":1.9,"y2":9.4},
    {"m":"FID-FeatSim","k":5,"c":"Icon","x":11.2,"x2":64.3,"y":3.75,"y2":7.25},
    {"m":"FID-FeatSim","k":5,"c":"Icon","x":64.3,"x2":77.8,"y":1.9,"y2":9.1},
    {"m":"FID-FeatSim","k":5,"c":"Icon","x":77.8,"x2":90.4,"y":1.9,"y2":9.1},
    {"m":"FID-FeatSim","k":5,"c":"Icon","x":90.4,"x2":100,"y":1.9,"y2":9.1},
    {"m":"FID-FeatSim","k":5,"c":"Web View","x":0,"x2":49.1,"y":10.6,"y2":40.25},
    {"m":"FID-FeatSim","k":5,"c":"Web View","x":50.2,"x2":100,"y":10.6,"y2":40.25},
    {"m":"FID-FeatSim","k":5,"c":"Web View","x":0,"x2":49.1,"y":41.25,"y2":70.9},
    {"m":"FID-FeatSim","k":5,"c":"Web View","x":50.2,"x2":100,"y":41.25,"y2":70.9},
    {"m":"FID-FeatSim","k":5,"c":"Web View","x":0,"x2":49.1,"y":71.6,"y2":95.25},
    {"m":"FID-FeatSim","k":5,"c":"Web View","x":50.2,"x2":100,"y":71.6,"y2":95.25},
    {"m":"FID-FeatSim","k":5,"c":"Text","x":6.5,"x2":41.4,"y":23.4,"y2":27.5},
    {"m":"FID-FeatSim","k":5,"c":"Text","x":61.2,"x2":90,"y":23.4,"y2":27.5},
    {"m":"FID-FeatSim","k":5,"c":"Text","x":5.8,"x2":42.1,"y":53.75,"y2":58.1},
    {"m":"FID-FeatSim","k":5,"c":"Text","x":50.2,"x2":100,"y":52.5,"y2":59.75},
    {"m":"FID-FeatSim","k":5,"c":"Text","x":0,"x2":49.1,"y":83.1,"y2":90},
    {"m":"FID-FeatSim","k":5,"c":"Text","x":50.2,"x2":100,"y":83.1,"y2":90}
  ]},
  "spacing": -6,
  "hconcat": [
    {
      "spacing": 0,
      "vconcat": [
        {"width": 151, "height": 389, "data": {"values": []}, "mark": {"type": "point", "opacity": 0}, "view": {"stroke": null, "fill": null}},
        {
          "width": 151, "height": 272,
          "title": {"text": "Query", "font": "Noto Sans", "fontSize": 32, "fontWeight": "normal", "color": "black", "anchor": "middle", "dx": -12, "offset": 22},
          "transform": [{"filter": "datum.m === 'Query'"}],
          "mark": {"type": "rect", "fillOpacity": 0.6, "strokeOpacity": 0.8, "strokeWidth": 1.5},
          "encoding": {
            "x": {"field": "x", "type": "quantitative", "scale": {"domain": [0, 100], "range": [2.5, 148.5], "nice": false, "zero": false}, "axis": null},
            "x2": {"field": "x2"},
            "y": {"field": "y", "type": "quantitative", "scale": {"domain": [0, 100], "range": [2.5, 269.5], "nice": false, "zero": false}, "axis": null},
            "y2": {"field": "y2"},
            "fill": {"field": "c", "type": "nominal", "legend": null, "scale": {"domain": ["Toolbar","Icon","Text","Image","Web View","List Item","Text Button","Input","Card","Background Image","Advertisement","Bottom Navigation"], "range": ["#9da3f3","#e99653","#f38296","#f8897b","#d95a1e","#c5a34d","#d2a34d","#d28ff3","#99b757","#828903","#c56e11","#a36e53"]}},
            "stroke": {"field": "c", "type": "nominal", "legend": null, "scale": {"domain": ["Toolbar","Icon","Text","Image","Web View","List Item","Text Button","Input","Card","Background Image","Advertisement","Bottom Navigation"], "range": ["#8a92f0","#e07a28","#f06080","#f87060","#e06a3a","#b08a20","#c08a30","#c878f0","#90b048","#909010","#c87828","#a07050"]}}
          }
        }
      ]
    },
    {
      "transform": [{"filter": "datum.m !== 'Query'"}],
      "spacing": {"row": 29, "column": 29},
      "facet": {
        "row": {"field": "m", "type": "nominal", "sort": ["LTSim", "DocSim", "MeanIoU", "FID-FeatSim"], "title": null,
          "header": {"labelOrient": "left", "labelAngle": 0, "labelAlign": "left", "labelAnchor": "end", "labelBaseline": "line-top", "labelFont": "Noto Sans", "labelFontSize": 33, "labelFontWeight": "normal", "labelColor": "black", "labelPadding": 23.5,
            "labelLineHeight": {"expr": "parent.m === 'LTSim' ? 84 : parent.m === 'FID-FeatSim' ? 32 : 68.5"}}},
        "column": {"field": "k", "type": "ordinal", "title": null, "header": null}
      },
      "spec": {
        "width": 151, "height": 272,
        "mark": {"type": "rect", "fillOpacity": 0.6, "strokeOpacity": 0.8, "strokeWidth": 1.5},
        "encoding": {
          "x": {"field": "x", "type": "quantitative", "scale": {"domain": [0, 100], "range": [2.5, 148.5], "nice": false, "zero": false}, "axis": null},
          "x2": {"field": "x2"},
          "y": {"field": "y", "type": "quantitative", "scale": {"domain": [0, 100], "range": [2.5, 269.5], "nice": false, "zero": false}, "axis": null},
          "y2": {"field": "y2"},
          "fill": {"field": "c", "type": "nominal", "legend": null, "scale": {"domain": ["Toolbar","Icon","Text","Image","Web View","List Item","Text Button","Input","Card","Background Image","Advertisement","Bottom Navigation"], "range": ["#9da3f3","#e99653","#f38296","#f8897b","#d95a1e","#c5a34d","#d2a34d","#d28ff3","#99b757","#828903","#c56e11","#a36e53"]}},
          "stroke": {"field": "c", "type": "nominal", "legend": null, "scale": {"domain": ["Toolbar","Icon","Text","Image","Web View","List Item","Text Button","Input","Card","Background Image","Advertisement","Bottom Navigation"], "range": ["#8a92f0","#e07a28","#f06080","#f87060","#e06a3a","#b08a20","#c08a30","#c878f0","#90b048","#909010","#c87828","#a07050"]}}
        }
      }
    }
  ]
}
